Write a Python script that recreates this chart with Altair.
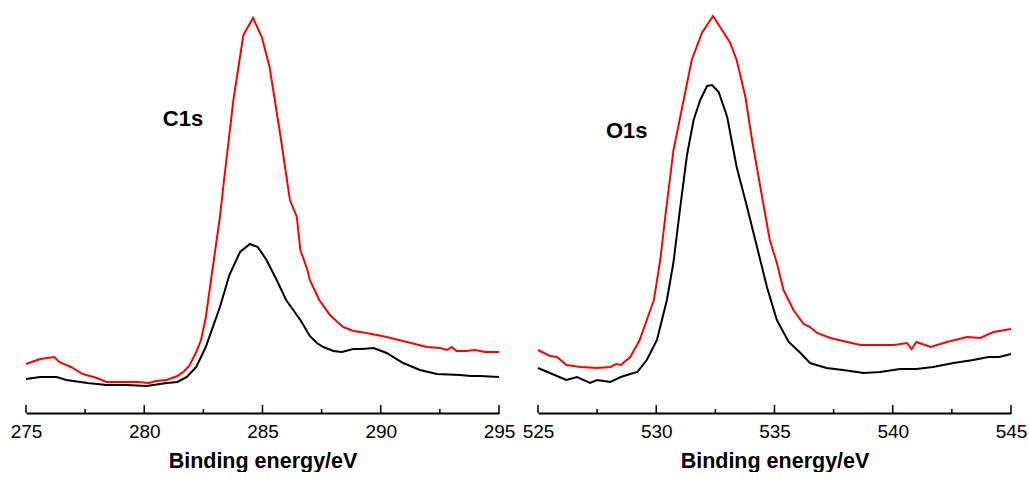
import altair as alt
import pandas as pd

# ---- C1s region -----------------------------------------------------------
c1s_energy_red = [275.0, 275.6, 276.2, 276.4, 276.9, 277.4, 278.0, 278.4, 279.0, 279.7,
                  280.2, 280.5, 280.95, 281.4, 281.65, 281.9, 282.2, 282.4, 282.6, 282.9,
                  283.2, 283.35, 283.77, 284.19, 284.6, 284.97, 285.3, 285.74, 286.16, 286.45,
                  286.6, 286.9, 287.0, 287.4, 287.85, 288.4, 288.84, 289.4, 290.25, 291.1,
                  291.95, 292.5, 292.8, 293.0, 293.2, 293.6, 294.0, 294.4, 295.0]
c1s_counts_red = [49, 54, 56, 51, 46, 39, 35, 31, 31, 31,
                  30, 32, 33, 37, 41, 47, 61, 73, 95, 146,
                  196, 228, 313, 378, 395, 376, 346, 280, 213, 196,
                  163, 143, 133, 113, 98, 86, 82, 80, 76, 71,
                  66, 65, 63, 66, 62, 62, 63, 61, 61]

c1s_energy_black = [275.0, 275.6, 276.3, 276.7, 277.6, 278.4, 279.26, 280.1, 280.95, 281.4,
                    281.8, 282.2, 282.6, 283.2, 283.6, 284.05, 284.47, 284.8, 285.17, 285.6,
                    286.0, 286.3, 286.6, 287.0, 287.3, 287.57, 288.0, 288.35, 288.84, 289.2,
                    289.7, 290.25, 290.95, 291.66, 292.37, 293.35, 293.8, 294.2, 295.0]
c1s_counts_black = [34, 36, 36, 33, 30, 28, 28, 27, 30, 31,
                    36, 46, 66, 106, 138, 161, 169, 166, 153, 133,
                    113, 103, 93, 77, 70, 66, 62, 61, 64, 64,
                    65, 60, 50, 43, 39, 38, 37, 37, 36]

# ---- O1s region -----------------------------------------------------------
o1s_energy_red = [525.0, 525.5, 525.8, 526.2, 526.8, 527.5, 528.06, 528.3, 528.5, 528.9,
                  529.3, 529.75, 529.9, 530.17, 530.4, 530.73, 531.16, 531.5, 531.93, 532.4,
                  532.7, 533.13, 533.4, 533.77, 534.05, 534.4, 534.8, 535.1, 535.38, 535.8,
                  536.23, 536.5, 536.8, 537.36, 538.07, 538.63, 539.33, 540.04, 540.6, 540.8,
                  541.0, 541.6, 542.3, 543.14, 543.7, 544.26, 545.0]
o1s_counts_red = [63, 57, 56, 48, 46, 45, 46, 49, 48, 56,
                  73, 103, 113, 153, 200, 263, 313, 353, 380, 397,
                  386, 370, 353, 316, 273, 226, 173, 150, 123, 103,
                  89, 86, 80, 75, 71, 68, 68, 68, 70, 64,
                  71, 66, 71, 76, 75, 81, 84]

o1s_energy_black = [525.0, 525.5, 526.2, 526.65, 527.2, 527.5, 528.06, 528.5, 528.9, 529.2,
                    529.6, 530.03, 530.45, 530.73, 531.0, 531.3, 531.58, 531.86, 532.15, 532.36,
                    532.64, 533.0, 533.4, 533.84, 534.26, 534.68, 535.1, 535.6, 536.1, 536.5,
                    537.2, 537.9, 538.77, 539.47, 540.3, 541.0, 541.7, 542.57, 543.4, 544.05,
                    544.5, 545.0]
o1s_counts_black = [45, 40, 33, 36, 30, 33, 31, 36, 39, 41,
                    53, 73, 113, 151, 203, 258, 293, 313, 327, 328,
                    321, 296, 246, 206, 166, 126, 93, 71, 60, 50,
                    45, 43, 40, 41, 44, 44, 46, 50, 53, 56,
                    56, 59]

# ---- axis ticks and peak labels ------------------------------------------
c1s_major = [275, 280, 285, 290, 295]
c1s_minor = [277.5, 282.5, 287.5, 292.5]
o1s_major = [525, 530, 535, 540, 545]
o1s_minor = [527.5, 532.5, 537.5, 542.5]

peak_names = ["C1s", "O1s"]
peak_label_energy = [281.64, 528.75]
peak_label_counts = [294.5, 282.0]

SERIES = ["Spectrum 1", "Spectrum 2"]
COLORS = ["#ff0000", "#000000"]
WIDTH, HEIGHT = 473, 413
Y_MAX = 413
FONT = "Liberation Sans"


def spectrum_frame(e_red, c_red, e_black, c_black):
    red = pd.DataFrame({"energy": e_red, "counts": c_red, "series": SERIES[0]})
    black = pd.DataFrame({"energy": e_black, "counts": c_black, "series": SERIES[1]})
    return pd.concat([red, black], ignore_index=True)


def panel(df, x_domain, major, minor, name, lx, ly):
    x_scale = alt.Scale(domain=x_domain, nice=False, zero=False)
    y_scale = alt.Scale(domain=[0, Y_MAX], nice=False, zero=True)
    x_axis = alt.Axis(
        title="Binding energy/eV", values=major, format="d", ticks=False, grid=False,
        domainColor="black", domainWidth=2,
        labelFont=FONT, labelFontSize=19, labelColor="black", labelPadding=9,
        labelFlush=False, labelOverlap=False,
        titleFont=FONT, titleFontSize=21.5, titleFontWeight="bold", titleColor="black",
        titlePadding=9,
    )

    lines = alt.Chart(df).mark_line(strokeWidth=2).encode(
        x=alt.X("energy:Q", scale=x_scale, axis=x_axis),
        y=alt.Y("counts:Q", scale=y_scale, axis=None),
        color=alt.Color("series:N", scale=alt.Scale(domain=SERIES, range=COLORS), legend=None),
        order=alt.Order("energy:Q"),
    )

    major_ticks = alt.Chart(pd.DataFrame({"energy": major})).mark_rule(
        color="black", strokeWidth=1.5
    ).encode(
        x=alt.X("energy:Q", scale=x_scale),
        y=alt.value(HEIGHT - 8),
        y2=alt.value(HEIGHT),
    )
    minor_ticks = alt.Chart(pd.DataFrame({"energy": minor})).mark_rule(
        color="black", strokeWidth=1.5
    ).encode(
        x=alt.X("energy:Q", scale=x_scale),
        y=alt.value(HEIGHT - 4),
        y2=alt.value(HEIGHT),
    )

    label = alt.Chart(pd.DataFrame({"name": [name], "energy": [lx], "counts": [ly]})).mark_text(
        font=FONT, fontSize=22, fontWeight="bold", color="black",
        align="center", baseline="middle",
    ).encode(
        x=alt.X("energy:Q", scale=x_scale),
        y=alt.Y("counts:Q", scale=y_scale),
        text="name:N",
    )

    return alt.layer(lines, major_ticks, minor_ticks, label).properties(
        width=WIDTH, height=HEIGHT
    )


c1s_df = spectrum_frame(c1s_energy_red, c1s_counts_red, c1s_energy_black, c1s_counts_black)
o1s_df = spectrum_frame(o1s_energy_red, o1s_counts_red, o1s_energy_black, o1s_counts_black)

left = panel(c1s_df, [275, 295], c1s_major, c1s_minor,
             peak_names[0], peak_label_energy[0], peak_label_counts[0])
right = panel(o1s_df, [525, 545], o1s_major, o1s_minor,
              peak_names[1], peak_label_energy[1], peak_label_counts[1])

chart = alt.hconcat(left, right, spacing=39, bounds="flush").properties(
    autosize=alt.AutoSizeParams(type="pad"),
    padding={"left": 10, "top": 0, "right": 0, "bottom": 0},
    background="white",
).configure_view(strokeWidth=0)

chart.save("out.html", embed_options={"renderer": "svg", "actions": False})
